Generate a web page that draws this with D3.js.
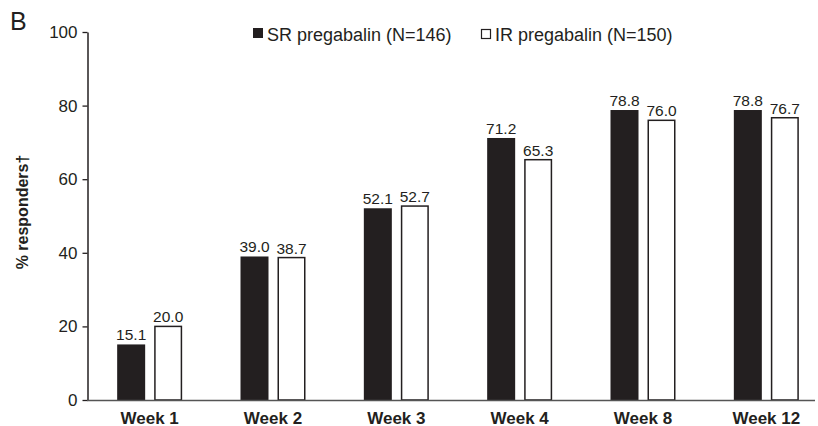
<!DOCTYPE html>
<html>
<head>
<meta charset="utf-8">
<script src="https://cdn.jsdelivr.net/npm/d3@7"></script>
<style>
  html, body { margin: 0; padding: 0; background: #fff; }
  svg { display: block; }
  text { font-family: "Liberation Sans", Arial, Helvetica, sans-serif; fill: #231f20; }
</style>
</head>
<body>
<svg id="chart" width="818" height="426"></svg>
<script>
const categories = ["Week 1", "Week 2", "Week 3", "Week 4", "Week 8", "Week 12"];
const seriesNames = ["SR pregabalin (N=146)", "IR pregabalin (N=150)"];
const srValues = [15.1, 39.0, 52.1, 71.2, 78.8, 78.8];
const irValues = [20.0, 38.7, 52.7, 65.3, 76.0, 76.7];
const yTicks = [0, 20, 40, 60, 80, 100];
const yLabel = "% responders†";
const panelLetter = "B";

const svg = d3.select("#chart");
const dark = "#231f20";

const x = d3.scaleBand().domain(categories).range([88, 828]).padding(0);
const y = d3.scaleLinear().domain([0, 100]).range([400, 32]);

const barW = 28, gap = 9;
const series = [
  { name: seriesNames[0], values: srValues, fill: dark, offset: -gap / 2 - barW },
  { name: seriesNames[1], values: irValues, fill: "#fff", offset: gap / 2 }
];

// Bars
series.forEach(s => {
  const g = svg.append("g");
  g.selectAll("rect").data(categories).join("rect")
    .attr("x", d => x(d) + x.bandwidth() / 2 + s.offset + (s.fill === "#fff" ? 0.75 : 0))
    .attr("y", (d, i) => y(s.values[i]))
    .attr("width", s.fill === "#fff" ? barW - 1.5 : barW)
    .attr("height", (d, i) => y(0) - y(s.values[i]))
    .attr("fill", s.fill)
    .attr("stroke", s.fill === "#fff" ? dark : "none")
    .attr("stroke-width", 1.5);
  g.selectAll("text").data(categories).join("text")
    .attr("x", d => x(d) + x.bandwidth() / 2 + s.offset + barW / 2)
    .attr("y", (d, i) => y(s.values[i]) - 4)
    .attr("text-anchor", "middle")
    .attr("font-size", 15.5)
    .text((d, i) => s.values[i].toFixed(1));
});

// Y axis
const yAxis = svg.append("g").attr("transform", "translate(87.5,0)")
  .call(d3.axisLeft(y).tickValues(yTicks).tickSize(5).tickPadding(5).tickSizeOuter(0));
yAxis.select(".domain").attr("stroke", dark).attr("stroke-width", 1.5);
yAxis.selectAll(".tick line").attr("stroke", dark).attr("stroke-width", 1.3);
yAxis.selectAll(".tick text").attr("font-size", 17)
  .attr("font-family", '"Liberation Sans", Arial, sans-serif').attr("fill", dark);

// X axis
const xAxis = svg.append("g").attr("transform", "translate(0,400.5)")
  .call(d3.axisBottom(x).tickSize(0).tickPadding(0).tickSizeOuter(0));
xAxis.select(".domain").remove();
svg.append("line").attr("x1", 87).attr("x2", 815).attr("y1", 400.5).attr("y2", 400.5)
  .attr("stroke", "#555").attr("stroke-width", 1.5);
xAxis.selectAll(".tick text").attr("font-size", 17).attr("font-weight", "bold")
  .attr("font-family", '"Liberation Sans", Arial, sans-serif').attr("fill", dark)
  .attr("dy", null).attr("y", 23);

// Y label
svg.append("text")
  .attr("transform", "translate(28,212) rotate(-90)")
  .attr("text-anchor", "middle")
  .attr("font-size", 16).attr("font-weight", "bold")
  .text(yLabel);

// Panel letter
svg.append("text").attr("x", 10).attr("y", 30).attr("font-size", 25).text(panelLetter);

// Legend
const legendX = [253, 481];
series.forEach((s, i) => {
  svg.append("rect").attr("x", legendX[i] + (i ? 0.5 : 0)).attr("y", i ? 29.5 : 28)
    .attr("width", i ? 9 : 10).attr("height", i ? 9 : 10)
    .attr("fill", s.fill).attr("stroke", i ? dark : "none").attr("stroke-width", 1.2);
  svg.append("text").attr("x", legendX[i] + 14).attr("y", 40.5).attr("font-size", 18).text(s.name);
});
</script>
</body>
</html>
